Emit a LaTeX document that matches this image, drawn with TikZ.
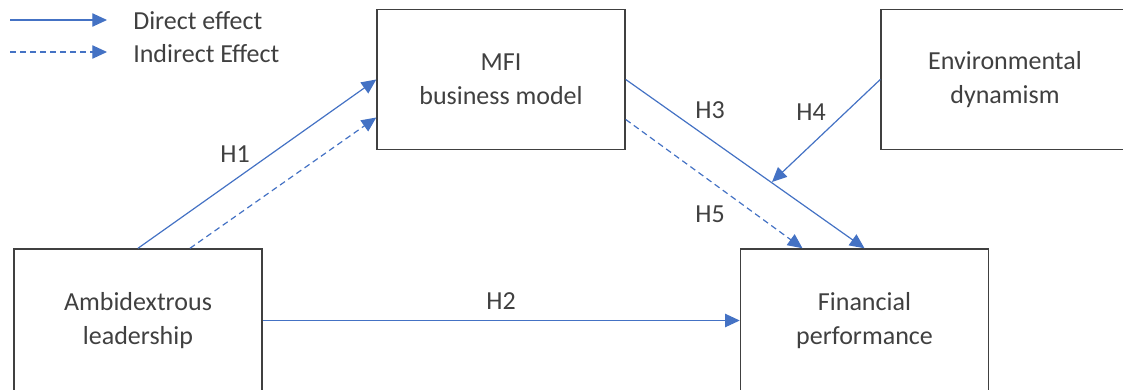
\documentclass[tikz,border=0pt]{standalone}
\usepackage{fontspec}
\setmainfont{Carlito}
\usepackage{xcolor}
\usepackage{tikz}
\usetikzlibrary{positioning,arrows.meta,calc}
\definecolor{effBlue}{HTML}{4472C4}
\definecolor{boxGrey}{HTML}{404040}

\begin{document}
\begin{tikzpicture}[x=0.75pt, y=-0.75pt, font=\fontsize{19.5}{25.5}\selectfont,
    text=boxGrey,
    box/.style={draw=boxGrey,line width=1.1pt,minimum width=186pt,
                minimum height=105pt,align=center,inner sep=0pt},
    lowbox/.style={box,minimum height=107.25pt},
    eff/.style={draw=effBlue,line width=0.9pt,-{Triangle[length=11pt,width=10pt]}},
    ind/.style={eff,dash pattern=on 4.5pt off 3pt},
    hyp/.style={inner sep=1pt}]
    \useasboundingbox (0,0) rectangle (1123,389);
    % boxes
    \node[box] (mfi)  at (501,79.5)  {MFI\\business model};
    \node[box] (env)  at (1005,79.5) {Environmental\\dynamism};
    \node[lowbox] (ambi) at (138,320.5)   {Ambidextrous\\leadership};
    \node[lowbox] (fin)  at (864.5,320.5) {Financial\\performance};

    % legend
    \coordinate (lsolA) at (10,20);
    \coordinate (lsolB) at (107,20);
    \coordinate (ldashA) at (10,52);
    \coordinate (ldashB) at (107,52);
    \node[anchor=west,inner sep=0pt] (ldirect)   at (133,21) {Direct effect};
    \node[anchor=west,inner sep=0pt] (lindirect) at (133,54) {Indirect Effect};
    \draw[eff] (lsolA) -- (lsolB);
    \draw[ind] (ldashA) -- (ldashB);

    % hypotheses
    \coordinate (h4end) at (772,182);
    \draw[eff] (ambi.north) -- (mfi.west);
    \draw[ind] ($(ambi.north)+(52,0)$) -- ($(mfi.west)+(0,38)$);
    \draw[eff] (ambi.east) -- (fin.west);
    \draw[eff] (mfi.east) -- (fin.north);
    \draw[ind] ($(mfi.east)+(0,40)$) -- ($(fin.north)+(-62,0)$);
    \draw[eff] (env.west) -- (h4end);

    \node[hyp] (h1) at (235,154) {H1};
    \node[hyp] (h2) at (501,301) {H2};
    \node[hyp] (h3) at (710,110) {H3};
    \node[hyp] (h4) at (811,112) {H4};
    \node[hyp] (h5) at (710,214) {H5};
  \end{tikzpicture}
\end{document}
